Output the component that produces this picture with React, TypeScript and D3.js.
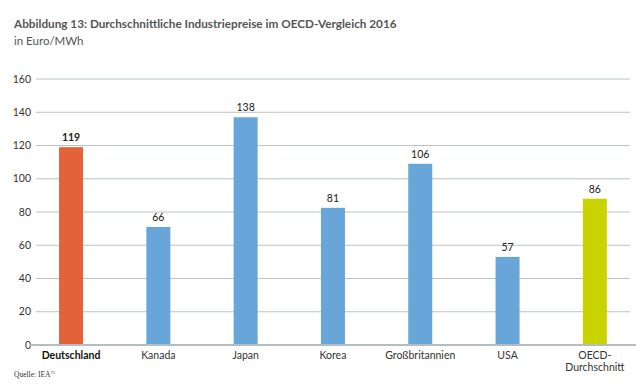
import * as d3 from "d3";
import { useEffect } from "react";

// Kategorien und Werte (Balkenhöhe wie gezeichnet, Beschriftung wie gedruckt)
const categories = ["Deutschland", "Kanada", "Japan", "Korea", "Großbritannien", "USA", "OECD-Durchschnitt"];
const barValues = [119, 71, 137, 82.5, 109, 53, 88];
const valueLabels = ["119", "66", "138", "81", "106", "57", "86"];
const yTicks = [0, 20, 40, 60, 80, 100, 120, 140, 160];

const W = 636;
const H = 390;
const FONT = "Lato, 'Open Sans', sans-serif";

const barColor = (i: number) => (i === 0 ? "#e3623a" : i === categories.length - 1 ? "#c8d300" : "#68a6da");

export default function App() {
  useEffect(() => {
    document.body.style.margin = "0";
  }, []);

  const x = d3.scaleBand<string>().domain(categories).range([27.4, 638.5]).padding(0);
  const y = d3.scaleLinear().domain([0, 160]).range([345, 79]);
  const barW = 24;

  return (
    <svg width={W} height={H} style={{ display: "block" }} fontFamily={FONT}>
      <text x={14} y={28} fontSize={11.75} fontWeight="bold" fill="#555">
        Abbildung 13: Durchschnittliche Industriepreise im OECD-Vergleich 2016
      </text>
      <text x={14} y={45} fontSize={11.5} fill="#555">
        in Euro/MWh
      </text>

      {/* Gitterlinien */}
      {yTicks.map((t) =>
        t === 0 ? null : (
          <line key={t} x1={36} x2={630} y1={y(t)} y2={y(t)} stroke="#b8c2c7" strokeWidth={1} />
        )
      )}
      {yTicks.map((t) => (
        <text key={"l" + t} x={31} y={y(t) + 3.5} fontSize={10.5} textAnchor="end" fill="#333">
          {t}
        </text>
      ))}

      {/* Balken */}
      {categories.map((c, i) => {
        const cx = (x(c) ?? 0) + x.bandwidth() / 2;
        return (
          <g key={c}>
            <rect x={cx - barW / 2} y={y(barValues[i])} width={barW} height={y(0) - y(barValues[i])} fill={barColor(i)} />
            <text
              x={cx}
              y={y(barValues[i]) - 6}
              fontSize={10.5}
              textAnchor="middle"
              fill="#222"
              fontWeight={i === 0 ? "bold" : "normal"}
            >
              {valueLabels[i]}
            </text>
          </g>
        );
      })}

      <line x1={30} x2={636} y1={y(0)} y2={y(0)} stroke="#b3bdc2" strokeWidth={2} />

      {/* Kategorien */}
      {categories.map((c, i) => {
        const cx = (x(c) ?? 0) + x.bandwidth() / 2;
        const parts = c === "OECD-Durchschnitt" ? ["OECD-", "Durchschnitt"] : [c];
        return (
          <text
            key={"c" + c}
            x={cx}
            y={359}
            fontSize={10.5}
            textAnchor="middle"
            fill={i === 0 ? "#111" : "#333"}
            fontWeight={i === 0 ? "bold" : "normal"}
          >
            {parts.map((p, k) => (
              <tspan key={p} x={cx} dy={k === 0 ? 0 : 11.5}>
                {p}
              </tspan>
            ))}
          </text>
        );
      })}

      <text x={14} y={377} fontSize={7.5} fontFamily="'Liberation Serif', serif" fill="#333">
        Quelle: IEA
        <tspan fontSize={4.5} dy={-3}>
          75
        </tspan>
      </text>
    </svg>
  );
}
